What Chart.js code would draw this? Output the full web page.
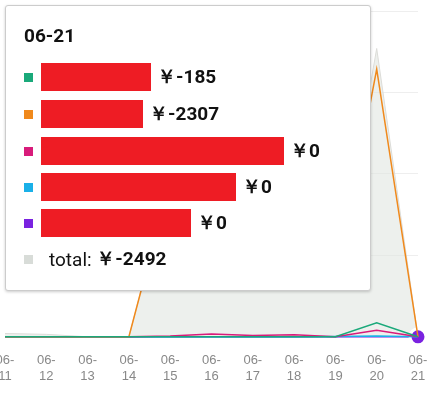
<!DOCTYPE html>
<html><head><meta charset="utf-8">
<script src="https://cdn.jsdelivr.net/npm/chart.js@4/dist/chart.umd.min.js"></script>
<style>
body{margin:0;width:443px;height:406px;overflow:hidden;background:#fff;font-family:Roboto,"Noto Sans",sans-serif;position:relative}
#wrap{position:absolute;left:-20px;top:0;width:463px;height:406px}
#tip{position:absolute;left:5px;top:5px;width:364px;height:284px;background:#fff;border:1px solid #ccc;border-radius:3px;box-shadow:0 1px 3px rgba(0,0,0,.2);font-weight:bold;font-size:19px;color:#111}
.row{position:absolute;left:18px;display:flex;align-items:center;height:26px}
.sq{width:9px;height:9px;margin-right:8px}
.red{background:#ee1c24;color:#ee1c24;height:28px;margin-right:6px;overflow:hidden;font-size:12px}
</style></head><body>
<div id="wrap"><canvas id="c" width="463" height="406" style="width:463px;height:406px"></canvas></div>
<div id="tip"></div>
<script>
const categories=["06-11","06-12","06-13","06-14","06-15","06-16","06-17","06-18","06-19","06-20","06-21"];
const seriesNames=["A","B","C","D","E"];
const seriesColors=["#1aa97a","#f0891c","#d81b7a","#1ab0e8","#7a22e0"];
const greenVals=[0,0,0,0,0,0,0,0,0,170,0];
const orangeVals=[0,0,0,0,1900,1500,1700,1200,600,3250,0];
const pinkVals=[0,0,0,0,10,35,15,25,0,80,0];
const blueVals=[0,0,0,0,0,0,0,0,5,10,0];
const purpleVals=[0,0,0,0,0,0,0,0,0,0,0];
const totalVals=[40,30,0,0,1910,1535,1715,1225,605,3500,0];
const tipTitle="06-21";
const tipValues=[-185,-2307,0,0,0];
const tipTotal=-2492;
const redWidths=[110,102,243,195,150];

const last=categories.length-1;
const mk=(v,i)=>({data:v,borderColor:seriesColors[i],backgroundColor:seriesColors[i],borderWidth:1.5,fill:false,tension:0,
  pointRadius:ctx=>(i===4&&ctx.dataIndex===last)?8:0,pointBorderColor:'#fff',pointBorderWidth:3});
new Chart(document.getElementById('c'),{type:'line',
 data:{labels:categories.map(c=>c.split('-').map((p,k)=>k?p:p+'-')),
  datasets:[mk(greenVals,0),mk(orangeVals,1),mk(pinkVals,2),mk(blueVals,3),mk(purpleVals,4),
   {data:totalVals,borderColor:'#dcdcd8',backgroundColor:'rgba(225,230,225,0.6)',borderWidth:1,fill:'origin',pointRadius:0,tension:0}]},
 options:{animation:false,responsive:false,events:[],clip:false,
  layout:{padding:{left:25,right:25,top:0,bottom:14}},
  plugins:{legend:{display:false},tooltip:{enabled:false}},
  scales:{x:{offset:false,grid:{display:false},border:{display:false},ticks:{color:'#888',font:{size:13},maxRotation:0,autoSkip:false,padding:8}},
   y:{display:true,min:0,max:3955,ticks:{display:false,stepSize:1000},grid:{color:'#eeeeee',drawTicks:false},border:{display:false}}}}});
const tip=document.getElementById('tip');
let h='<div style="position:absolute;left:18px;top:18px">'+tipTitle+'</div>';
const tops=[58,95,132,168,204];
tipValues.forEach((v,i)=>{h+='<div class="row" style="top:'+tops[i]+'px"><div class="sq" style="background:'+seriesColors[i]+'"></div><div class="red" style="width:'+redWidths[i]+'px">'+seriesNames[i]+'</div>￥'+v+'</div>';});
h+='<div class="row" style="top:240px;font-weight:normal"><div class="sq" style="background:#d8dcd8"></div><span style="margin-left:8px">total:&nbsp;</span><b>￥'+tipTotal+'</b></div>';
tip.innerHTML=h;
</script></body></html>
